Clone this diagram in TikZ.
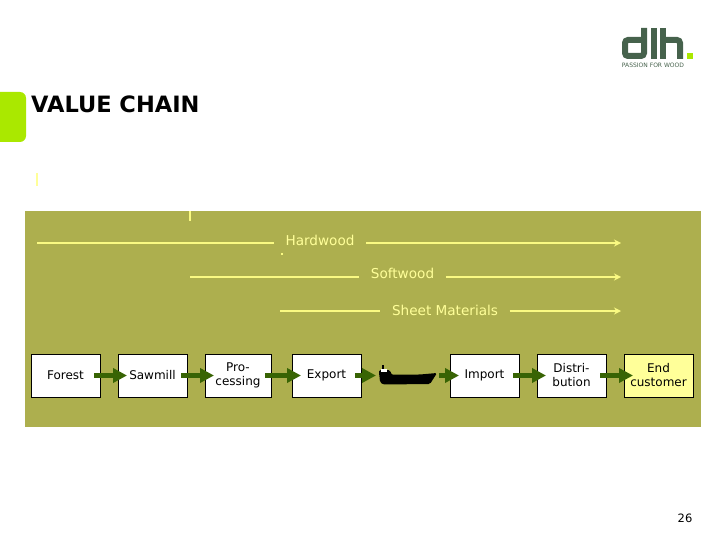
\documentclass[tikz,border=0pt]{standalone}
\usepackage{fontspec}
\setmainfont{DejaVu Sans}
\usepackage{xcolor}
\usetikzlibrary{
  arrows.meta,
  positioning
}
\definecolor{bandolive}{RGB}{173,175,78}
\definecolor{flowgreen}{RGB}{56,100,4}
\definecolor{lineyellow}{RGB}{250,250,130}
\definecolor{paleyellow}{RGB}{255,255,153}
\definecolor{tablime}{RGB}{170,232,0}
\definecolor{logogreen}{RGB}{70,98,76}
\tikzset{
  stage/.style={draw=black,thick,fill=white,align=center,inner sep=0pt,outer sep=0pt,
    minimum width=69pt,minimum height=43pt,font=\fontsize{12}{14}\selectfont},
  chainflow/.style={-{Triangle[length=14pt,width=14pt]},line width=5pt,draw=flowgreen,
    shorten <=-6pt,shorten >=-9pt},
  species/.style={text=paleyellow,inner xsep=11.5pt,inner ysep=3pt,font=\fontsize{13.6}{16}\selectfont},
  rangeline/.style={line width=2.4pt,draw=lineyellow},
  rangeflow/.style={-{Stealth[length=7pt,width=7pt]},line width=2.4pt,draw=lineyellow},
  tick/.style={line width=1.6pt,draw=lineyellow},
  logostroke/.style={line width=6pt,draw=logogreen}
}
\begin{document}
\begin{tikzpicture}[x=1pt,y=-1pt,node distance=18pt]
  \useasboundingbox (0,0) rectangle (720,540);
  % title and tab
  \fill[tablime,rounded corners=6pt] (-10,92) rectangle (26,142);
  \node[anchor=west,inner sep=0pt,font=\bfseries\fontsize{22.5}{26}\selectfont] (title) at (31,104) {VALUE CHAIN};
  % logo
  \draw[logostroke,rounded corners=3pt] (644,28) -- (644,56) -- (625,56) -- (625,40) -- (644,40);
  \draw[logostroke] (653.5,28) -- (653.5,59);
  \draw[logostroke] (663,28) -- (663,59);
  \draw[logostroke,rounded corners=3pt] (663,40) -- (680,40) -- (680,59);
  \fill[tablime] (687,53) rectangle (693,59);
  \node[text=logogreen,inner sep=0pt,font=\fontsize{6}{7}\selectfont] (tagline) at (653,65) {PASSION FOR WOOD};
  % band
  \fill[bandolive] (25,211) rectangle (701,427);
  \draw[line width=1.2pt,draw=paleyellow] (37,173) -- (37,186);
  \draw[tick] (190,211) -- (190,221);
  \fill[lineyellow] (280.5,252.5) rectangle (282.5,254.5);
  % ranges
  \node[species] (hardwood) at (320,240) {Hardwood};
  \node[species] (softwood) at (402.5,273) {Softwood};
  \node[species] (sheet) at (445,310) {Sheet Materials};
  \coordinate (hardstart) at (37,243);
  \coordinate (hardend) at (621,243);
  \coordinate (softstart) at (190,277);
  \coordinate (softend) at (621,277);
  \coordinate (sheetstart) at (280,311);
  \coordinate (sheetend) at (621,311);
  \draw[rangeline] (hardstart) -- (hardstart -| hardwood.west);
  \draw[rangeflow] (hardstart -| hardwood.east) -- (hardend);
  \draw[rangeline] (softstart) -- (softstart -| softwood.west);
  \draw[rangeflow] (softstart -| softwood.east) -- (softend);
  \draw[rangeline] (sheetstart) -- (sheetstart -| sheet.west);
  \draw[rangeflow] (sheetstart -| sheet.east) -- (sheetend);
  % chain
  \node[stage] (forest) at (65.5,375.5) {\raisebox{-1pt}{Forest}};
  \node[stage,right=of forest] (sawmill) {\raisebox{-1pt}{Sawmill}};
  \node[stage,right=of sawmill,minimum width=66pt,yshift=0pt] (processing) {\raisebox{-1pt}{Pro-}\\\raisebox{-1pt}{cessing}};
  \node[stage,right=21pt of processing] (export) {\raisebox{-1pt}{Export}};
  \node[stage,right=89pt of export] (import) {\raisebox{-1pt}{Import}};
  \node[stage,right=of import] (distribution) {\raisebox{-1pt}{Distri-}\\\raisebox{-1pt}{bution}};
  \node[stage,right=of distribution,fill=paleyellow] (customer) {\raisebox{-1pt}{End}\\\raisebox{-1pt}{customer}};
  % ship
  \coordinate (shipbow) at (367,375.5);
  \coordinate (shipstern) at (445,375.5);
  \fill[black,rounded corners=1.5pt] (379,372) -- (380,382) -- (383,384.5) -- (430,384) -- (437,373) -- (420,374.5) -- (391,374.5) -- (390,370) -- (379,370) -- cycle;
  \fill[white] (381,369) rectangle (387,372);
  \fill[black] (382,365) rectangle (384,369);
  \fill[black] (379,372) rectangle (391,375);
  % flows
  \draw[chainflow] (forest) -- (sawmill);
  \draw[chainflow] (sawmill) -- (processing);
  \draw[chainflow] (processing) -- (export);
  \draw[chainflow] (export) -- (shipbow);
  \draw[chainflow] (shipstern) -- (import);
  \draw[chainflow] (import) -- (distribution);
  \draw[chainflow] (distribution) -- (customer);
  \node[font=\fontsize{11.5}{14}\selectfont,inner sep=0pt] (page) at (685,518) {26};
\end{tikzpicture}
\end{document}
